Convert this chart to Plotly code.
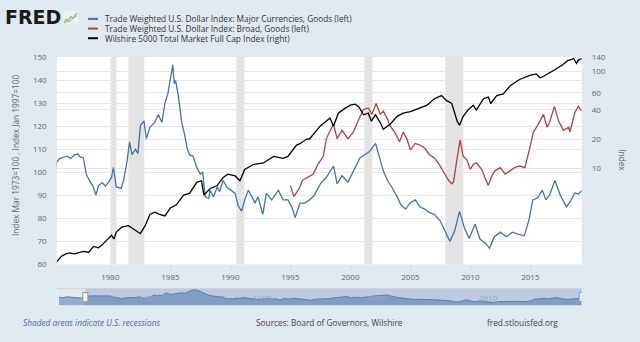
import math
import pandas as pd
import plotly.graph_objects as go

W, H = 640, 342

# ---------------- data (decimal years) ----------------
major_t = [1973.2, 1973.5, 1973.9, 1974.3, 1974.8, 1975.2,
           1975.53, 1975.8, 1976.1, 1976.4, 1976.7, 1977.0, 1977.3, 1977.5, 1977.75, 1978.0,
           1978.3, 1978.55, 1978.8, 1979.0, 1979.3, 1979.6, 1979.9, 1980.1, 1980.25, 1980.5,
           1980.9, 1981.1, 1981.4, 1981.6, 1981.8, 1982.1, 1982.3, 1982.5, 1982.8, 1983.0,
           1983.3, 1983.7, 1984.0, 1984.3, 1984.55, 1984.8, 1985.03, 1985.2, 1985.33, 1985.44,
           1985.67, 1985.95, 1986.2, 1986.4, 1986.6, 1986.9, 1987.2, 1987.5, 1987.7, 1987.9,
           1988.2, 1988.3, 1988.6, 1988.9, 1989.1, 1989.4, 1989.7, 1990.1, 1990.4, 1990.67,
           1990.95, 1991.2, 1991.5, 1991.8, 1992.05, 1992.3, 1992.7, 1993.0, 1993.45, 1994.0,
           1994.4, 1994.8, 1995.1, 1995.4, 1995.8, 1996.2, 1996.6, 1997.0, 1997.5, 1998.0,
           1998.6, 1998.9, 1999.3, 1999.8, 2000.4, 2000.8, 2001.2, 2001.6, 2002.1, 2002.5,
           2002.75, 2003.1, 2003.45, 2003.9, 2004.2, 2004.6, 2005.0, 2005.4, 2005.8, 2006.2,
           2006.6, 2007.0, 2007.5, 2008.0, 2008.3, 2008.7, 2009.1, 2009.5, 2009.9, 2010.4,
           2010.8, 2011.3, 2011.6, 2012.0, 2012.5, 2013.0, 2013.5, 2014.0, 2014.5, 2014.9,
           2015.2, 2015.6, 2016.0, 2016.3, 2016.6, 2017.05, 2017.5, 2018.0, 2018.3, 2018.7,
           2019.0, 2019.28]
major_v = [100, 95, 101, 98, 97, 93,
           104.5, 106, 106.5, 107, 106, 107.5, 107.9, 106.5, 106.2, 99,
           96, 94, 90.1, 94, 95.5, 94, 96, 97.8, 102, 93.6,
           93, 96.4, 105, 113.2, 107.6, 110, 108, 120.2, 122.3, 114.6,
           119.5, 121.6, 125, 121.6, 130, 134.2, 141.3, 146.6, 138.4, 139.8,
           132.9, 121.6, 116, 110.4, 107.6, 106.9, 102, 99.2, 99.9, 89.4,
           88.7, 92.2, 89.4, 93.6, 91.5, 96.4, 93.6, 92.2, 90.8, 85.2,
           83.1, 88, 92.2, 89.4, 86.6, 89.4, 81.7, 90.8, 88, 92.2,
           88, 88, 85.2, 80.3, 86.6, 86.6, 88, 90, 95, 97.8,
           102.7, 95, 98.5, 95.7, 102, 106.2, 107.6, 109, 112.5, 104.8,
           100.6, 96.4, 93.6, 89.4, 86, 84, 86.8, 88, 85, 84,
           82.5, 81.7, 78.8, 73.3, 70, 74.6, 83, 76, 71.2, 77.5,
           71, 69, 67, 72, 74, 72, 74, 73, 72.5, 79.6,
           88, 88.8, 92.2, 88, 90, 96.4, 90, 85, 87, 91,
           90.5, 92]

broad_t = [1995.0, 1995.3, 1995.55, 1995.8, 1996.0, 1996.5, 1996.9, 1997.3, 1997.75, 1998.0,
           1998.6, 1998.9, 1999.3, 1999.8, 2000.25, 2000.7, 2001.1, 2001.5, 2001.8, 2002.15,
           2002.5, 2002.75, 2003.1, 2003.3, 2003.7, 2004.1, 2004.4, 2004.7, 2005.0, 2005.4,
           2005.8, 2006.2, 2006.6, 2007.0, 2007.4, 2007.8, 2008.2, 2008.45, 2008.6, 2008.9,
           2009.15, 2009.4, 2009.7, 2010.0, 2010.25, 2010.5, 2010.95, 2011.2, 2011.5, 2011.8,
           2012.05, 2012.5, 2012.9, 2013.3, 2013.7, 2014.1, 2014.55, 2014.95, 2015.25, 2015.67,
           2016.1, 2016.4, 2016.6, 2017.0, 2017.35, 2017.75, 2018.2, 2018.3, 2018.7, 2019.0,
           2019.28]
broad_v = [94.3, 89.4, 91.5, 93.6, 96.4, 98, 99.2, 103.4, 106.9, 114.6,
           120.9, 114.6, 118.2, 114.6, 117.4, 123, 127.2, 127.9, 125.1, 129.8,
           125.1, 126.5, 123, 120.2, 117.4, 113.2, 117.4, 114.6, 109.7, 112.5,
           111.8, 110.4, 107.6, 106.2, 103.4, 99.9, 96.4, 95, 95.7, 106.2,
           114, 106.9, 105.5, 101.3, 103.4, 104.1, 101.3, 97.8, 94.3, 98.5,
           100.6, 102, 99.2, 100.6, 102, 102.7, 102, 110.4, 117.4, 120.9,
           125.1, 119.5, 121.6, 128.6, 122.3, 118.2, 119.5, 117.4, 125.8, 128.6,
           126.5]

wil_t = [1975.53, 1975.95, 1976.3, 1976.6, 1977.0, 1977.4, 1977.75, 1978.2, 1978.6, 1979.0,
         1979.3, 1979.7, 1980.1, 1980.3, 1980.5, 1980.95, 1981.5, 1981.9, 1982.5, 1982.9,
         1983.3, 1983.7, 1984.1, 1984.55, 1985.0, 1985.5, 1986.1, 1986.6, 1987.2, 1987.6,
         1987.8, 1988.3, 1988.9, 1989.4, 1989.8, 1990.4, 1990.8, 1991.2, 1991.9, 1992.75,
         1993.6, 1994.4, 1994.8, 1995.5, 1995.8, 1996.4, 1996.6, 1997.5, 1998.3, 1998.6,
         1999.0, 1999.55, 2000.0, 2000.4, 2000.7, 2001.1, 2001.5, 2001.75, 2002.1, 2002.5,
         2002.75, 2003.1, 2003.3, 2003.9, 2004.4, 2005.0, 2005.7, 2006.4, 2007.0, 2007.6,
         2008.0, 2008.45, 2008.7, 2008.9, 2009.1, 2009.4, 2009.8, 2010.25, 2010.5, 2011.1,
         2011.5, 2011.7, 2012.2, 2012.75, 2013.3, 2014.1, 2014.95, 2015.5, 2015.8, 2016.1,
         2016.9, 2017.75, 2018.15, 2018.3, 2018.6, 2018.85, 2019.0, 2019.28]
wil_v = [1.08, 1.23, 1.3, 1.33, 1.3, 1.33, 1.38, 1.35, 1.55, 1.5,
         1.6, 1.8, 2.02, 1.85, 2.18, 2.45, 2.54, 2.36, 2.1, 2.54,
         3.32, 3.5, 3.32, 3.2, 3.87, 4.18, 5.26, 5.47, 7.13, 7.4,
         5.26, 6.13, 6.6, 8.0, 8.65, 8.3, 7.4, 9.7, 10.9, 11.3,
         13.2, 12.6, 13.2, 17.2, 17.9, 20.1, 20, 27.3, 33, 27.3,
         37, 41.5, 44.8, 45.8, 43.2, 35.6, 37, 30.6, 35.6, 29.4,
         25.2, 27.3, 28.3, 34.3, 37, 38.5, 41.5, 44.8, 52.2, 56.3,
         50.2, 46.6, 37, 30.6, 27.7, 34.3, 39.9, 44.8, 39.9, 52.2,
         54.3, 46.6, 56.3, 58.6, 70.8, 82.6, 91.2, 94.2, 85.9, 89.2,
         101.6, 118.5, 130.8, 130.8, 136, 121, 131, 136]

rec_start = ["1980-01-01", "1981-07-01", "1990-07-01", "2001-03-01", "2007-12-01"]
rec_end = ["1980-07-01", "1982-11-01", "1991-03-01", "2001-11-01", "2009-06-01"]

x_ticks = [1980, 1985, 1990, 1995, 2000, 2005, 2010, 2015]
nav_ticks = [1980, 1990, 2000, 2010]
left_ticks = [60, 70, 80, 90, 100, 110, 120, 130, 140, 150]
right_ticks = [10, 20, 40, 60, 100, 140]

names = ["Trade Weighted U.S. Dollar Index: Major Currencies, Goods (left)",
         "Trade Weighted U.S. Dollar Index: Broad, Goods (left)",
         "Wilshire 5000 Total Market Full Cap Index (right)"]
colors = ["#4572a7", "#aa4643", "#000000"]

# ---------------- helpers ----------------
def to_date(y):
    yr = int(math.floor(y))
    a = pd.Timestamp(yr, 1, 1)
    b = pd.Timestamp(yr + 1, 1, 1)
    return (a + (b - a) * (y - yr)).strftime("%Y-%m-%d")

def px(x):
    return x / W

def py(y):
    return 1 - y / H

FONT = "Open Sans"
BG = "#e1e9f0"

x_l, x_r = 56.7, 581.7
p_top, p_bot = 52.7, 267.0
n_top, n_bot = 292.0, 309.3

fig = go.Figure()

fig.add_trace(go.Scatter(x=[to_date(t) for t in major_t], y=major_v, mode="lines",
                         line=dict(color=colors[0], width=1.3), xaxis="x", yaxis="y",
                         name=names[0], showlegend=False))
fig.add_trace(go.Scatter(x=[to_date(t) for t in broad_t], y=broad_v, mode="lines",
                         line=dict(color=colors[1], width=1.3), xaxis="x", yaxis="y",
                         name=names[1], showlegend=False))
fig.add_trace(go.Scatter(x=[to_date(t) for t in wil_t], y=wil_v, mode="lines",
                         line=dict(color=colors[2], width=1.3), xaxis="x", yaxis="y2",
                         name=names[2], showlegend=False))
# navigator series
fig.add_trace(go.Scatter(x=[to_date(t) for t in major_t], y=major_v, mode="lines",
                         line=dict(color="#5a7fb3", width=1), fill="tozeroy",
                         fillcolor="rgba(69,114,167,0.5)", xaxis="x2", yaxis="y3",
                         showlegend=False, hoverinfo="skip"))

shapes = []
# recessions
for s, e in zip(rec_start, rec_end):
    shapes.append(dict(type="rect", xref="x", yref="y domain", x0=s, x1=e, y0=0, y1=1,
                       fillcolor="#e3e3e3", line=dict(width=0), layer="below"))
# navigator backgrounds
shapes.append(dict(type="rect", xref="x2 domain", yref="y3 domain", x0=0, x1=1, y0=0, y1=1,
                   fillcolor=BG, line=dict(width=0), layer="below"))
shapes.append(dict(type="rect", xref="x2", yref="y3 domain", x0=to_date(major_t[6]),
                   x1=to_date(major_t[-1]), y0=0, y1=1,
                   fillcolor="rgba(102,133,194,0.3)", line=dict(width=0), layer="below"))
shapes.append(dict(type="line", xref="paper", yref="paper", x0=px(x_l), x1=px(x_r),
                   y0=py(n_top), y1=py(n_top), line=dict(color="#c9d2de", width=1)))
# navigator handles
for t in (major_t[6], major_t[-1]):
    shapes.append(dict(type="rect", xref="x2", yref="paper", xsizemode="pixel",
                       xanchor=to_date(t), x0=-2.5, x1=2.5,
                       y0=py(305.5), y1=py(296.0),
                       fillcolor="#f2f2f2", line=dict(color="#999999", width=1)))
# legend samples
for i, c in enumerate(colors):
    yy = 13.3 + 10 * i
    shapes.append(dict(type="line", xref="paper", yref="paper", x0=px(88), x1=px(98),
                       y0=py(yy), y1=py(yy), line=dict(color=c, width=2)))
# FRED icon
shapes.append(dict(type="rect", xref="paper", yref="paper", x0=px(63), x1=px(78),
                   y0=py(19), y1=py(5), fillcolor="#eef1f4", line=dict(width=0)))
shapes.append(dict(type="path", xref="paper", yref="paper",
                   path=f"M {px(64)},{py(17)} L {px(66.5)},{py(13.5)} L {px(68.5)},{py(15)} "
                        f"L {px(71)},{py(11)} L {px(73)},{py(12.5)} L {px(77)},{py(7)}",
                   line=dict(color="#8cc63f", width=1.2)))
shapes.append(dict(type="path", xref="paper", yref="paper",
                   path=f"M {px(64)},{py(18)} L {px(67)},{py(15.5)} L {px(69.5)},{py(16.5)} "
                        f"L {px(72.5)},{py(13)} L {px(77)},{py(10)}",
                   line=dict(color="#7fb2d8", width=1)))

ann = []
ann.append(dict(text="<b>FRED</b>", x=px(3), y=py(11.5), xref="paper", yref="paper",
                xanchor="left", yanchor="middle", showarrow=False,
                font=dict(family="DejaVu Sans", size=19, color="#1a1a1a")))
for i, n in enumerate(names):
    ann.append(dict(text=n, x=px(103), y=py(13.3 + 10 * i), xref="paper", yref="paper",
                    xanchor="left", yanchor="middle", showarrow=False,
                    font=dict(family=FONT, size=8.3, color="#333333")))
ann.append(dict(text="Index Mar 1973=100 , Index Jan 1997=100", textangle=-90,
                x=px(15), y=py(154), xref="paper", yref="paper", xanchor="center",
                yanchor="middle", showarrow=False, font=dict(family=FONT, size=8.3, color="#666666")))
ann.append(dict(text="Index", textangle=90, x=px(621.7), y=py(159), xref="paper", yref="paper",
                xanchor="center", yanchor="middle", showarrow=False,
                font=dict(family=FONT, size=8.3, color="#666666")))
for t in nav_ticks:
    ann.append(dict(text=str(t), x=to_date(t), y=py(301), xref="x2", yref="paper",
                    xanchor="left", yanchor="middle", xshift=1, showarrow=False,
                    font=dict(family=FONT, size=8, color="#97a8c2")))
ann.append(dict(text="<i>Shaded areas indicate U.S. recessions</i>", x=px(21), y=py(327.3),
                xref="paper", yref="paper", xanchor="left", yanchor="middle", showarrow=False,
                font=dict(family=FONT, size=8.3, color="#4f6a98")))
ann.append(dict(text="Sources: Board of Governors, Wilshire", x=px(254), y=py(327.3),
                xref="paper", yref="paper", xanchor="left", yanchor="middle", showarrow=False,
                font=dict(family=FONT, size=8.3, color="#444444")))
ann.append(dict(text="fred.stlouisfed.org", x=px(485), y=py(327.3),
                xref="paper", yref="paper", xanchor="left", yanchor="middle", showarrow=False,
                font=dict(family=FONT, size=8.3, color="#444444")))

tickfont = dict(family=FONT, size=8, color="#666666")

fig.update_layout(
    width=W, height=H, margin=dict(l=0, r=0, t=0, b=0),
    paper_bgcolor=BG, plot_bgcolor="#ffffff",
    showlegend=False, shapes=shapes, annotations=ann,
    font=dict(family=FONT),
    xaxis=dict(domain=[px(x_l), px(x_r)], anchor="y", type="date",
               range=[to_date(major_t[6]), to_date(major_t[-1])],
               tickvals=[f"{t}-01-01" for t in x_ticks], ticktext=[str(t) for t in x_ticks],
               ticks="outside", ticklen=5, tickcolor="#ccd6eb", showgrid=False,
               showline=False, zeroline=False, tickfont=tickfont),
    yaxis=dict(domain=[py(p_bot), py(p_top)], anchor="x", range=[60, 150],
               tickvals=left_ticks, gridcolor="#e6e6e6", gridwidth=1, zeroline=False,
               showline=False, tickfont=tickfont, ticklabelstandoff=9),
    yaxis2=dict(overlaying="y", side="right", anchor="x", type="log",
                range=[math.log10(1.01), math.log10(141)], tickvals=right_ticks,
                ticktext=[str(v) for v in right_ticks], gridcolor="#e6e6e6", gridwidth=1,
                zeroline=False, showline=False, tickfont=tickfont, ticklabelstandoff=9),
    xaxis2=dict(domain=[px(x_l), px(x_r)], anchor="y3", type="date",
                range=[to_date(major_t[0] - 0.2), to_date(major_t[-1])],
                showticklabels=False, showgrid=False, zeroline=False, ticks=""),
    yaxis3=dict(domain=[py(n_bot), py(n_top)], anchor="x2", range=[50, 150], visible=False,
                showgrid=False),
)

fig.write_html("out.html")
